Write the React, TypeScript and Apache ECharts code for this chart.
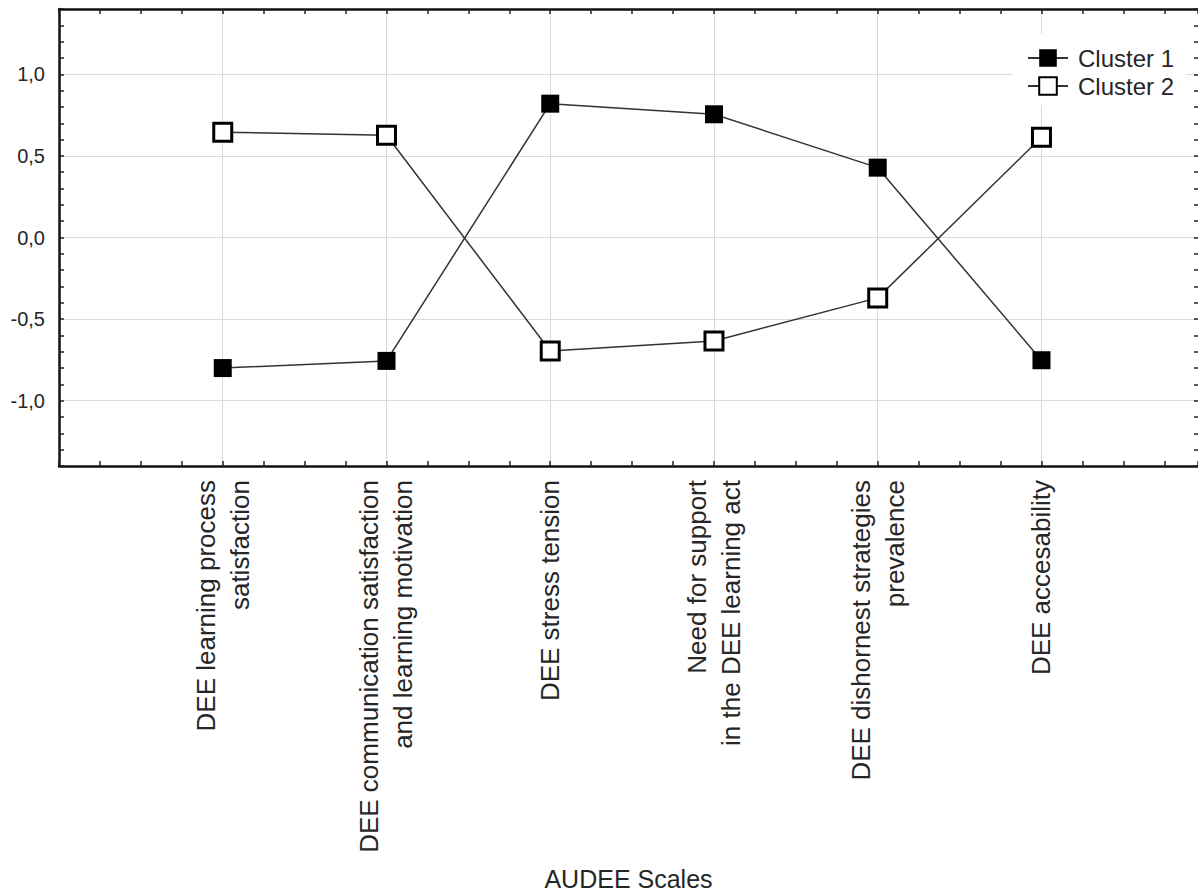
import React, { useEffect, useRef } from "react";
import * as echarts from "echarts";

const categories: string[] = [
  "DEE learning process\nsatisfaction",
  "DEE communication satisfaction\nand learning motivation",
  "DEE stress tension",
  "Need for support\nin the DEE learning act",
  "DEE dishornest strategies\nprevalence",
  "DEE accesability",
];
const cluster1: number[] = [-0.8, -0.756, 0.82, 0.755, 0.428, -0.752];
const cluster2: number[] = [0.645, 0.626, -0.695, -0.634, -0.37, 0.614];
const seriesNames: string[] = ["Cluster 1", "Cluster 2"];
const yMin = -1.4;
const yMax = 1.4;
const xMin = 0;
const xMax = 6.956;
const xAxisName = "AUDEE Scales";

const FONT = "'Liberation Sans', Arial, sans-serif";
const TEXT = "#262626";
const GRID = "#dadada";

export default function App() {
  const ref = useRef<HTMLDivElement>(null);
  useEffect(() => {
    if (!ref.current) return;
    const chart = echarts.init(ref.current, undefined, { renderer: "svg" });
    const fmtY = (v: number) =>
      Math.abs(v * 2 - Math.round(v * 2)) < 1e-6 ? v.toFixed(1).replace(".", ",") : "";
    const tickCommon = {
      show: true,
      inside: true,
      length: 5,
      lineStyle: { color: "#222", width: 1.5 },
    };
    const lineCommon = { show: true, onZero: false, lineStyle: { color: "#111", width: 2.5 } };
    const toPoints = (arr: number[]) => arr.map((v, i) => [i + 1, v]);
    chart.setOption({
      animation: false,
      backgroundColor: "#fff",
      textStyle: { fontFamily: FONT },
      grid: { left: 59, top: 9, right: 0, height: 462.5, containLabel: false },
      legend: {
        orient: "vertical",
        left: 1013,
        top: 34,
        padding: [12, 12, 7, 14],
        backgroundColor: "#fff",
        itemWidth: 40,
        itemHeight: 22,
        itemGap: 4,
        data: seriesNames,
        textStyle: { fontSize: 24, lineHeight: 22, color: TEXT, fontFamily: FONT, padding: [0, 0, 0, 5] },
      },
      xAxis: [
        {
          type: "value",
          position: "bottom",
          min: xMin,
          max: xMax,
          interval: 1,
          axisLine: lineCommon,
          axisTick: tickCommon,
          minorTick: { show: true, splitNumber: 4, length: 5, lineStyle: { color: "#222", width: 1.5 } },
          splitLine: { show: true, lineStyle: { color: GRID, width: 1 } },
          axisLabel: {
            rotate: 90,
            margin: 14,
            fontSize: 26,
            lineHeight: 34,
            color: TEXT,
            fontFamily: FONT,
            showMaxLabel: false,
            formatter: (v: number) =>
              Math.abs(v - Math.round(v)) < 1e-6 ? categories[Math.round(v) - 1] ?? "" : "",
          },
          name: xAxisName,
          nameLocation: "middle",
          nameGap: 400,
          nameTextStyle: { fontSize: 25, color: TEXT, fontFamily: FONT },
        },
        {
          type: "value",
          position: "top",
          min: xMin,
          max: xMax,
          interval: 1,
          axisLine: lineCommon,
          axisTick: tickCommon,
          minorTick: { show: true, splitNumber: 4, length: 5, lineStyle: { color: "#222", width: 1.5 } },
          splitLine: { show: false },
          axisLabel: { show: false },
        },
      ],
      yAxis: [
        {
          type: "value",
          position: "left",
          min: yMin,
          max: yMax,
          interval: 0.1,
          axisLine: lineCommon,
          axisTick: tickCommon,
          splitLine: { show: false },
          axisLabel: { margin: 14, fontSize: 20, color: TEXT, fontFamily: FONT, formatter: fmtY },
        },
        {
          type: "value",
          position: "left",
          min: yMin,
          max: yMax,
          splitNumber: 5,
          axisLine: { show: false, onZero: false },
          axisTick: { show: false },
          axisLabel: { show: false },
          splitLine: { show: true, lineStyle: { color: GRID, width: 1 } },
        },
        {
          type: "value",
          position: "right",
          min: yMin,
          max: yMax,
          interval: 0.1,
          axisLine: { show: false, onZero: false },
          axisTick: { ...tickCommon, length: 4 },
          splitLine: { show: false },
          axisLabel: { show: false },
        },
      ],
      series: [
        {
          name: seriesNames[0],
          type: "line",
          xAxisIndex: 0,
          yAxisIndex: 0,
          data: toPoints(cluster1),
          symbol: "rect",
          symbolSize: 18,
          lineStyle: { color: "#333", width: 1.5 },
          itemStyle: { color: "#000", borderColor: "#000", borderWidth: 0 },
          z: 3,
        },
        {
          name: seriesNames[1],
          type: "line",
          xAxisIndex: 0,
          yAxisIndex: 0,
          data: toPoints(cluster2),
          symbol: "rect",
          symbolSize: 18,
          lineStyle: { color: "#333", width: 1.5 },
          itemStyle: { color: "#fff", borderColor: "#000", borderWidth: 3 },
          z: 3,
        },
      ],
    });
    return () => chart.dispose();
  }, []);
  return (
    <div
      ref={ref}
      style={{ position: "absolute", left: 0, top: 0, width: 1198, height: 896, overflow: "hidden" }}
    />
  );
}
